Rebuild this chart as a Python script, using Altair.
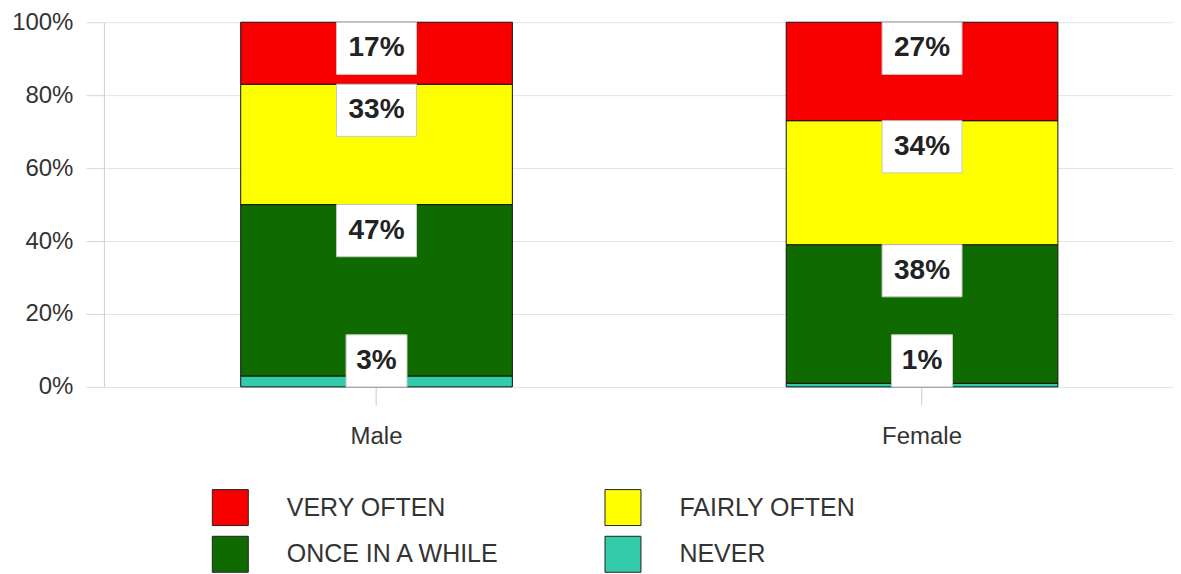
import altair as alt
import pandas as pd

categories = ["Male", "Female"]
levels = ["VERY OFTEN", "FAIRLY OFTEN", "ONCE IN A WHILE", "NEVER"]
colors = ["#f90000", "#ffff00", "#0f6a00", "#33ccaa"]
male_values = [17, 33, 47, 3]
female_values = [27, 34, 38, 1]
y_ticks = [0, 20, 40, 60, 80, 100]

BOX_H = 14.3  # label box height, in percentage units

rows = []
for cat, vals in zip(categories, [male_values, female_values]):
    cum = 0
    # stack from the bottom: NEVER first, VERY OFTEN on top
    for lvl, v in reversed(list(zip(levels, vals))):
        y0, y1 = cum, cum + v
        cum = y1
        label = f"{v}%"
        bb = y1 - BOX_H
        bt = y1
        if bb < 0:
            bb, bt = 0, BOX_H
        rows.append(dict(cat=cat, level=lvl, value=v, y0=y0, y1=y1,
                         label=label, bb=bb, bt=bt, ty=(bb + bt) / 2,
                         bw=19 * len(label) + 23))
df = pd.DataFrame(rows)

xscale = alt.Scale(paddingInner=0.502, paddingOuter=0.2309, align=0.543)
yscale = alt.Scale(domain=[0, 100], nice=False)

base = alt.Chart(df)

bars = base.mark_bar(stroke="#111111", strokeWidth=1, opacity=1).encode(
    x=alt.X("cat:N", sort=categories, scale=xscale, title=None,
            axis=alt.Axis(labelAngle=0, labelFontSize=24, labelColor="#333333",
                          labelPadding=20, tickSize=18, tickColor="#cccccc",
                          domain=False, grid=False)),
    y=alt.Y("y0:Q", scale=yscale, title=None,
            axis=alt.Axis(values=y_ticks, labelExpr="datum.value + '%'",
                          labelFontSize=24, labelColor="#333333", labelPadding=13,
                          tickSize=18, tickColor="#d8d8d8", domainColor="#d0d0d0",
                          gridColor="#e3e3e3")),
    y2="y1:Q",
    color=alt.Color("level:N", sort=levels,
                    scale=alt.Scale(domain=levels, range=colors),
                    legend=alt.Legend(title=None, orient="none", legendX=108, legendY=467,
                                      columns=2, direction="horizontal",
                                      symbolType="square", symbolSize=1296,
                                      symbolStrokeColor="#222222", symbolStrokeWidth=1,
                                      symbolOpacity=1,
                                      labelFontSize=25, labelColor="#333333",
                                      labelOffset=38, rowPadding=6, columnPadding=102,
                                      labelLimit=400)),
)

boxes = base.mark_bar(color="white", stroke="#c8c8c8", strokeWidth=1).encode(
    x=alt.X("cat:N", sort=categories, scale=xscale),
    y=alt.Y("bb:Q", scale=yscale),
    y2="bt:Q",
    size=alt.Size("bw:Q", scale=None, legend=None),
)

texts = base.mark_text(fontSize=28, fontWeight="bold", color="#222222").encode(
    x=alt.X("cat:N", sort=categories, scale=xscale),
    y=alt.Y("ty:Q", scale=yscale),
    text="label:N",
)

chart = alt.layer(bars, boxes, texts).properties(
    width=1070, height=365,
    padding={"left": 3, "top": 2, "right": 0, "bottom": 0},
).configure(font="Liberation Sans").configure_view(stroke=None)

chart.save("out.html", embed_options={"renderer": "svg", "actions": False})
